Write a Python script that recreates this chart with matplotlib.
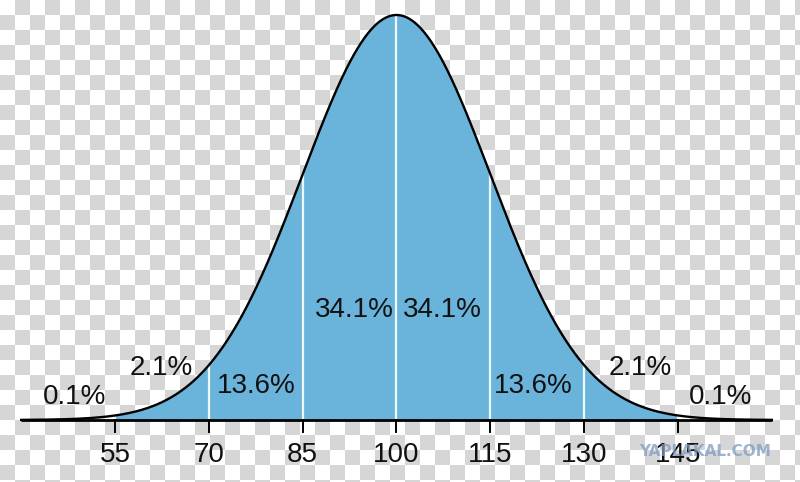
import numpy as np
import matplotlib
matplotlib.use("Agg")
import matplotlib.pyplot as plt

plt.rcParams['font.family'] = ['Liberation Sans', 'DejaVu Sans']

# normal distribution, mean 100, sd 15
mean = 100
sd = 15
x_min, x_max = 40, 160
boundaries = [55, 70, 85, 100, 115, 130, 145]
tick_labels = ["55", "70", "85", "100", "115", "130", "145"]

pct_labels = ["0.1%", "2.1%", "13.6%", "34.1%", "34.1%", "13.6%", "2.1%", "0.1%"]
pct_x = [48.5, 62.4, 77.6, 93.2, 107.4, 121.9, 138.9, 151.8]
pct_y = [0.0015, 0.0034, 0.0022, 0.0072, 0.0072, 0.0022, 0.0034, 0.0015]


def pdf(v):
    return np.exp(-0.5 * ((v - mean) / sd) ** 2) / (sd * np.sqrt(2 * np.pi))


W, H = 800, 482
fig = plt.figure(figsize=(W / 100, H / 100), dpi=100)

# checkerboard background (transparent png look)
bg = fig.add_axes([0, 0, 1, 1])
cell = 15
nr, nc = H // cell + 1, W // cell + 1
rr, cc = np.mgrid[0:nr, 0:nc]
board = ((rr + cc) % 2).astype(float)
bg.imshow(board, cmap=matplotlib.colors.ListedColormap(["#ffffff", "#d6d6d6"]),
          extent=[0, nc * cell, nr * cell, 0], interpolation="nearest")
bg.set_xlim(0, W)
bg.set_ylim(H, 0)
bg.axis("off")

ax = fig.add_axes([0, 0, 1, 1])
ax.patch.set_alpha(0)
px_x = 563 / 90.0        # pixels per unit x
px_y = 405 / pdf(mean)   # pixels per unit y
ax.set_xlim(mean - 396.5 / px_x, mean + 403.5 / px_x)
ax.set_ylim(-62 / px_y, 420 / px_y)
ax.axis("off")

xs = np.linspace(x_min, x_max, 800)
xf = np.linspace(boundaries[0], boundaries[-1], 600)
ax.fill_between(xf, 0, pdf(xf), color="#6ab4dc", lw=0, zorder=1)
for b in boundaries:
    ax.plot([b, b], [0, pdf(b)], color="#eef8fc", lw=1.6, zorder=2)
ax.plot(xs, pdf(xs), color="black", lw=1.7, zorder=3)

# axis line and ticks
ax.plot([x_min, x_max], [0, 0], color="black", lw=2.0, zorder=4, solid_capstyle="butt")
for b, lab in zip(boundaries, tick_labels):
    ax.plot([b, b], [0, -12 / px_y], color="black", lw=1.4, zorder=4)
    ax.text(b, -35.5 / px_y, lab, ha="center", va="center", fontsize=20, color="#111111")

for lab, lx, ly in zip(pct_labels, pct_x, pct_y):
    ax.text(lx, ly, lab, ha="center", va="center", fontsize=20, color="#111111", zorder=5)

# watermark
ax.text(mean + (705 - 396.5) / px_x, -32 / px_y, "YAPLAKAL.COM",
        ha="center", va="center", fontsize=11, fontweight="bold",
        family="DejaVu Sans", color="#7f9cc0", alpha=0.75, zorder=6)

fig.savefig("out.png", dpi=100)
